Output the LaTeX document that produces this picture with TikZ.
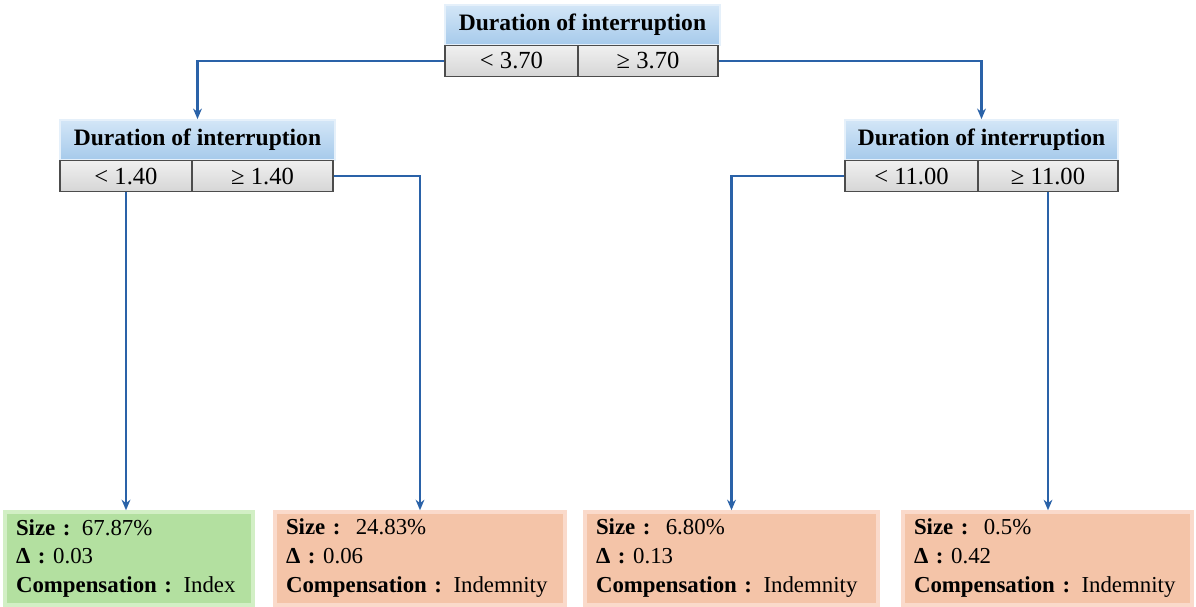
\documentclass[tikz,border=0pt]{standalone}
\usepackage{fontspec}
\setmainfont{Liberation Serif}
\usetikzlibrary{arrows.meta}
\definecolor{linkblue}{HTML}{2A62A8}
\definecolor{hdrtop}{HTML}{D3E6F7}
\definecolor{hdrbot}{HTML}{A6CAEB}
\definecolor{leafgreen}{HTML}{B3E0A0}
\definecolor{leafgreenrim}{HTML}{D2EFC5}
\definecolor{leafsalmon}{HTML}{F4C4A8}
\definecolor{leafsalmonrim}{HTML}{FADACB}
\begin{document}
\begin{tikzpicture}[x=0.02cm,y=-0.02cm,>=Stealth,
    hdr/.style={draw=hdrtop!60!white,line width=1pt,top color=hdrtop,bottom color=hdrbot,
        minimum width=5.5cm,minimum height=0.8cm,inner sep=0pt,font=\fontsize{13.4}{15}\selectfont\bfseries},
    split/.style={draw=black!70,line width=0.8pt,top color=black!6,bottom color=black!16,
        minimum height=0.62cm,inner sep=0pt,font=\fontsize{14}{15}\selectfont},
    leaf/.style={line width=2pt,minimum height=1.86cm,inner xsep=0.22cm,inner ysep=0pt,
        align=left,font=\fontsize{13}{16.5}\selectfont},
    goodleaf/.style={leaf,fill=leafgreen,draw=leafgreenrim},
    badleaf/.style={leaf,fill=leafsalmon,draw=leafsalmonrim},
    link/.style={draw=linkblue,line width=1.2pt,->,>={Stealth[length=6pt,width=5pt]}}]
\useasboundingbox (0,0) rectangle (1196,607);
\node[hdr] (top) at (582.5,25) {Duration of interruption};
\node[split,minimum width=2.66cm] (topl) at (511.5,61) {< 3.70};
\node[split,minimum width=2.8cm] (topr) at (648,61) {≥ 3.70};
\node[hdr] (lhdr) at (197.5,140) {Duration of interruption};
\node[split,minimum width=2.64cm] (lhl) at (126,176) {< 1.40};
\node[split,minimum width=2.82cm] (lhr) at (262.5,176) {≥ 1.40};
\node[hdr,minimum width=5.46cm] (rhdr) at (981.5,140) {Duration of interruption};
\node[split,minimum width=2.66cm] (rhl) at (911.5,176) {< 11.00};
\node[split,minimum width=2.8cm] (rhr) at (1048,176) {≥ 11.00};
\node[goodleaf,text width=4.52cm] (leafa) at (129,558.5) {\textbf{Size :} 67.87\%\\ \textbf{Δ :} 0.03\\ \textbf{Compensation :} Index};
\node[badleaf,text width=5.36cm] (leafb) at (420,558.5) {\textbf{Size :}\ \ 24.83\%\\ \textbf{Δ :} 0.06\\ \textbf{Compensation :} Indemnity};
\node[badleaf,text width=5.42cm] (leafc) at (731.5,558.5) {\textbf{Size :}\ \ 6.80\%\\ \textbf{Δ :} 0.13\\ \textbf{Compensation :} Indemnity};
\node[badleaf,text width=5.34cm] (leafd) at (1047.5,558.5) {\textbf{Size :}\ \ 0.5\%\\ \textbf{Δ :} 0.42\\ \textbf{Compensation :} Indemnity};
\draw[link] (topl.west) -| (lhdr.north);
\draw[link] (topr.east) -| (rhdr.north);
\draw[link] (lhl.south) -- (lhl.south |- leafa.north);
\draw[link] (lhr.east) -| (leafb.north);
\draw[link] (rhl.west) -| (leafc.north);
\draw[link] (rhr.south) -- (rhr.south |- leafd.north);
\end{tikzpicture}
\end{document}
